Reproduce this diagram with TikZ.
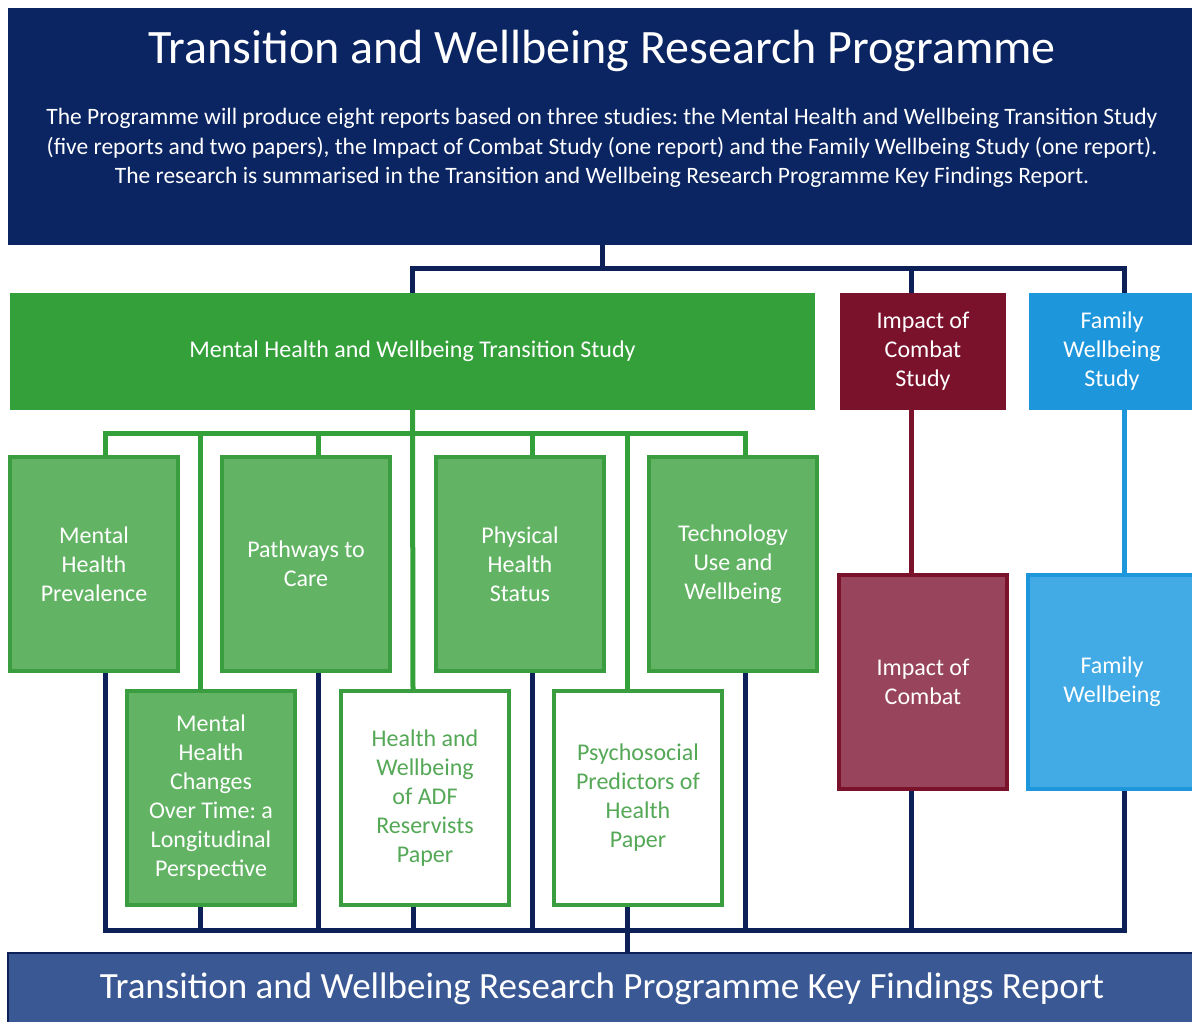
\documentclass[tikz,border=0pt]{standalone}
\usepackage{fontspec}
\setmainfont{Carlito}
\frenchspacing

\definecolor{topnavy}{RGB}{11,37,99}
\definecolor{linknavy}{RGB}{13,33,88}
\definecolor{studygreen}{RGB}{52,160,58}
\definecolor{reportgreen}{RGB}{98,180,100}
\definecolor{reportedge}{RGB}{58,158,64}
\definecolor{papertext}{RGB}{84,168,86}
\definecolor{combatred}{RGB}{122,18,44}
\definecolor{combatlight}{RGB}{152,68,92}
\definecolor{familyblue}{RGB}{30,150,220}
\definecolor{familylight}{RGB}{66,171,230}
\definecolor{keyblue}{RGB}{58,88,148}

\newcommand{\boxtext}{\fontsize{24}{29}\selectfont}

\tikzset{
  link/.style={line width=5pt},
  navylink/.style={link,draw=linknavy},
  greenlink/.style={link,draw=studygreen},
  redlink/.style={link,draw=combatred},
  bluelink/.style={link,draw=familyblue},
  study/.style={rectangle,inner sep=0pt,align=center,text=white,font=\boxtext,minimum height=117pt},
  report/.style={rectangle,draw=reportedge,fill=reportgreen,line width=3.5pt,minimum width=168pt,
    minimum height=214pt,inner sep=0pt,align=center,text=white,font=\boxtext},
  paper/.style={report,fill=white,text=papertext},
}

\begin{document}
\begin{tikzpicture}[x=1pt,y=-1pt]
 \clip (0,0) rectangle (1192,1021);
 \fill[white] (0,0) rectangle (1192,1021);

 \node at (602,126.5) [rectangle,fill=topnavy,minimum width=1188pt,minimum height=237pt] (top) {};
 \node at (602,51) [text=white,font=\fontsize{48}{50}\selectfont] (title) {Transition and Wellbeing Research Programme};
 \node at (602,148) [text=white,align=center,font=\fontsize{23.5}{29.5}\selectfont] (intro)
   {The Programme will produce eight reports based on three studies: the Mental Health and Wellbeing Transition Study\\
    (five reports and two papers), the Impact of Combat Study (one report) and the Family Wellbeing Study (one report).\\
    The research is summarised in the Transition and Wellbeing Research Programme Key Findings Report.};

 \node at (412.5,351.5) [study,fill=studygreen,minimum width=805pt] (mhs) {Mental Health and Wellbeing Transition Study};
 \node at (923,351.5) [study,fill=combatred,minimum width=166pt] (ics) {Impact of\\Combat\\Study};
 \node at (1112,351.5) [study,fill=familyblue,minimum width=166pt] (fws) {Family\\Wellbeing\\Study};

 \node at (94,564) [report] (mhp) {Mental\\Health\\Prevalence};
 \node at (306,564) [report] (ptc) {Pathways to\\Care};
 \node at (520,564) [report] (phs) {Physical\\Health\\Status};
 \node at (733,564) [report] (tec) {Technology\\Use and\\Wellbeing};

 \node at (211,798) [report] (mhc) {Mental\\Health\\Changes\\Over Time: a\\Longitudinal\\Perspective};
 \node at (425,798) [paper] (hwa) {Health and\\Wellbeing\\of ADF\\Reservists\\Paper};
 \node at (638,798) [paper] (psy) {Psychosocial\\Predictors of\\Health\\Paper};

 \node at (923,682) [report,draw=combatred,fill=combatlight] (icl) {Impact of\\Combat};
 \node at (1112,682) [report,draw=familyblue,fill=familylight] (fwl) {Family\\Wellbeing};

 \node at (602,989) [rectangle,draw=linknavy,line width=2pt,fill=keyblue,minimum width=1188pt,minimum height=72pt,
   text=white,font=\fontsize{37}{40}\selectfont] (key) {Transition and Wellbeing Research Programme Key Findings Report};

 \coordinate (ti) at (911,268); \coordinate (tf) at (1124,268);
 \coordinate (g1) at (105,433); \coordinate (g2) at (200,433); \coordinate (g3) at (318,433);
 \coordinate (g4) at (413,433); \coordinate (g5) at (532,433); \coordinate (g6) at (627,433);
 \coordinate (g7) at (745,433); \coordinate (nb) at (1124,930);

 \draw[navylink] (mhs.north) |- (tf) -- (tf |- fws.north);
 \draw[navylink] (top.south) -- (top.south |- tf); \draw[navylink] (ti) -- (ti |- ics.north);

 \draw[greenlink] (g1 |- mhp.north) |- (g7) -- (g7 |- tec.north);
 \draw[greenlink] (mhs.south) -- (g4 |- hwa.north);
 \foreach \g/\b in {g2/mhc,g3/ptc,g5/phs,g6/psy} \draw[greenlink] (\g) -- (\g |- \b.north);

 \draw[redlink] (ti |- ics.south) -- (ti |- icl.north);
 \draw[bluelink] (tf |- fws.south) -- (tf |- fwl.north);

 \draw[navylink] (g1 |- mhp.south) |- (nb) -- (nb |- fwl.south);
 \foreach \g/\b in {g2/mhc,g3/ptc,g4/hwa,g5/phs,g7/tec} \draw[navylink] (\g |- \b.south) -- (\g |- nb);
 \draw[navylink] (g6 |- psy.south) -- (g6 |- key.north);
 \draw[navylink] (ti |- icl.south) -- (ti |- nb);
\end{tikzpicture}
\end{document}
